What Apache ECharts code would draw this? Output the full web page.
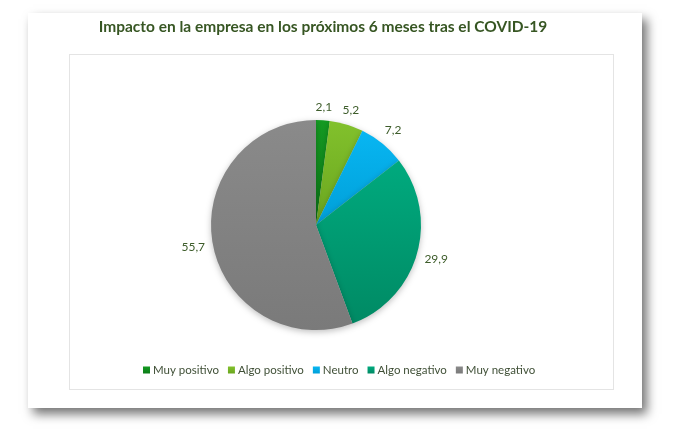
<!DOCTYPE html>
<html>
<head>
<meta charset="utf-8">
<script src="https://cdn.jsdelivr.net/npm/echarts@6/dist/echarts.min.js"></script>
<style>
    html, body { margin: 0; padding: 0; background: #ffffff; }
    #card {
        position: absolute; left: 28px; top: 13px; width: 614px; height: 395px;
        background: #ffffff; box-shadow: 5px 6px 10px rgba(0, 0, 0, 0.55);
    }
    #inner {
        position: absolute; left: 69px; top: 54px; width: 543px; height: 334px;
        border: 1px solid #e4e4e4;
    }
    #chart { position: absolute; left: 0; top: 0; width: 673px; height: 432px; }
</style>
</head>
<body>
<div id="card"></div>
<div id="inner"></div>
<div id="chart"></div>
<script>
var categories = ['Muy positivo', 'Algo positivo', 'Neutro', 'Algo negativo', 'Muy negativo'];
var values = [2.1, 5.2, 7.2, 29.9, 55.7];
var colorsTop = ['#149a22', '#82c12c', '#08b6f2', '#00aa7e', '#8a8a8a'];
var colorsBottom = ['#0c7c18', '#6aa61f', '#009fd8', '#008a64', '#7a7a7a'];

var pieCenter = [316, 225];
var pieRadius = 105;
var labelPad = 7;

function sliceData() {
    var data = [];
    for (var i = 0; i < categories.length; i++) {
        data.push({
            name: categories[i],
            value: values[i],
            itemStyle: {
                color: {
                    type: 'linear', x: 0, y: 0, x2: 0, y2: 1,
                    colorStops: [
                        { offset: 0, color: colorsTop[i] },
                        { offset: 1, color: colorsBottom[i] }
                    ]
                }
            }
        });
    }
    return data;
}

/*mid angle of each slice, clockwise from 12 o'clock*/
function midAngle(idx) {
    var total = 0, before = 0;
    for (var i = 0; i < values.length; i++) {
        total += values[i];
        if (i < idx) before += values[i];
    }
    return (before + values[idx] / 2) / total * Math.PI * 2;
}

/*Excel-like placement: label box centred on the slice's mid angle, just off the edge*/
function placeLabel(params) {
    var a = midAngle(params.dataIndex);
    var dx = Math.sin(a), dy = -Math.cos(a);
    var w = params.labelRect.width, h = params.labelRect.height;
    var dist = pieRadius + labelPad + Math.abs(dx) * w / 2 + Math.abs(dy) * h / 2;
    return {
        x: pieCenter[0] + dx * dist,
        y: pieCenter[1] + dy * dist,
        align: 'center',
        verticalAlign: 'middle'
    };
}

var myChart = echarts.init(document.getElementById('chart'));
var option = {
    backgroundColor: 'transparent',
    animation: false,
    color: colorsTop,
    title: {
        text: 'Impacto en la empresa en los próximos 6 meses tras el COVID-19',
        left: 318,
        top: 14,
        textAlign: 'center',
        textStyle: {
            color: '#375623',
            fontFamily: 'Lato',
            fontWeight: 'bold',
            fontSize: 15.5
        }
    },
    legend: {
        data: categories,
        bottom: 51,
        left: 138,
        itemWidth: 7,
        itemHeight: 7,
        itemGap: 9,
        icon: 'rect',
        textStyle: {
            color: '#3f4f36',
            fontFamily: 'Lato',
            fontSize: 11.5,
            padding: [0, 0, 0, -2]
        }
    },
    series: [{
        type: 'pie',
        center: pieCenter,
        radius: pieRadius,
        startAngle: 90,
        clockwise: true,
        avoidLabelOverlap: false,
        data: sliceData(),
        itemStyle: {
            shadowBlur: 6,
            shadowOffsetY: 2,
            shadowColor: 'rgba(0, 0, 0, 0.25)'
        },
        label: {
            show: true,
            position: 'outside',
            formatter: function (p) { return String(p.value).replace('.', ','); },
            color: '#3d5c2a',
            fontFamily: 'Lato',
            fontSize: 12
        },
        labelLine: { show: false },
        labelLayout: placeLabel,
        emphasis: { disabled: true }
    }]
};
myChart.setOption(option);
</script>
</body>
</html>
